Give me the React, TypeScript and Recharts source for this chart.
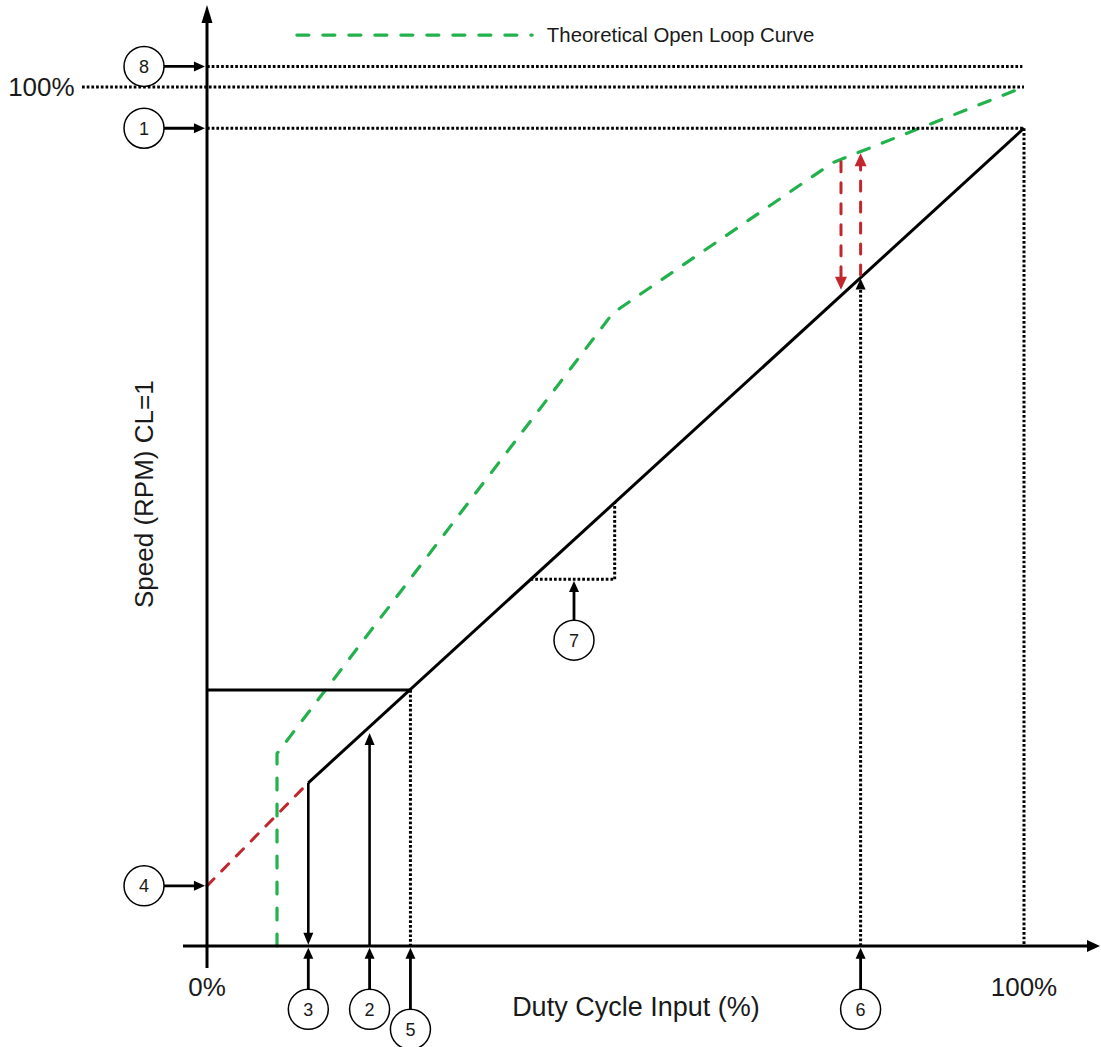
import React from 'react';
import { ComposedChart, Line, XAxis, YAxis, ReferenceLine, ReferenceDot } from 'recharts';

const FONT = '"Liberation Sans", Arial, Helvetica, sans-serif';
const GREEN = '#22b14c';
const RED = '#c1272d';
const INK = '#000000';

// ---- data (duty cycle %, speed %) ----
const closedLoop = [
  { x: 12.4, y: 19.0 },
  { x: 100, y: 95.2 },
];
const lowSpeedLine = [
  { x: 0, y: 7.0 },
  { x: 12.4, y: 19.0 },
];
const openLoopCurve = [
  { x: 8.57, y: 0 },
  { x: 8.57, y: 22.4 },
  { x: 49.7, y: 73.7 },
  { x: 76.6, y: 91.2 },
  { x: 100, y: 100 },
];
const speedLevels = { max8: 102.4, full: 100, max1: 95.2, min4: 7.0, knee: 29.8 };
const dutyPoints = { min3: 12.4, mid2: 19.9, knee5: 24.9, test6: 80.0, full: 100, step7a: 39.6, step7b: 49.9 };
const stepLevels = { low: 42.7, high: 51.6 };
const gapArrow = { downX: 77.6, downFrom: 91.3, downTo: 76.4, upFrom: 78.1, upTo: 92.3 };
const leftCallouts = [
  { label: '8', y: speedLevels.max8 },
  { label: '1', y: speedLevels.max1 },
  { label: '4', y: speedLevels.min4 },
];
const bottomCallouts = [
  { label: '3', x: dutyPoints.min3, low: false },
  { label: '2', x: dutyPoints.mid2, low: false },
  { label: '5', x: dutyPoints.knee5, low: true },
  { label: '6', x: dutyPoints.test6, low: false },
];
const xTickLabels = [
  { x: 0, label: '0%' },
  { x: 100, label: '100%' },
];
const legendLabel = 'Theoretical Open Loop Curve';
const xTitle = 'Duty Cycle Input (%)';
const yTitle = 'Speed (RPM) CL=1';

// ---- layout ----
const W = 1101;
const H = 1047;
const X_DOMAIN: [number, number] = [-25.337, 109.425];
const Y_DOMAIN: [number, number] = [-11.758, 110.128];

type Dir = 'up' | 'down' | 'left' | 'right';

const arrowHead = (dir: Dir, color = INK, len = 11, half = 5) => (p: any) => {
  const { cx, cy } = p;
  let pts = '';
  if (dir === 'right') pts = `${cx},${cy} ${cx - len},${cy - half} ${cx - len},${cy + half}`;
  if (dir === 'left') pts = `${cx},${cy} ${cx + len},${cy - half} ${cx + len},${cy + half}`;
  if (dir === 'up') pts = `${cx},${cy} ${cx - half},${cy + len} ${cx + half},${cy + len}`;
  if (dir === 'down') pts = `${cx},${cy} ${cx - half},${cy - len} ${cx + half},${cy - len}`;
  return <polygon points={pts} fill={color} stroke="none" />;
};

const circleShape = (label: string) => (p: any) => (
  <g>
    <circle cx={p.cx} cy={p.cy} r={20} fill="#ffffff" stroke={INK} strokeWidth={1.5} />
    <text
      x={p.cx}
      y={p.cy + 0.5}
      textAnchor="middle"
      dominantBaseline="central"
      fontFamily={FONT}
      fontSize={18}
      fill="#1a1a1a"
    >
      {label}
    </text>
  </g>
);

const textShape = (txt: string, size: number, anchor: 'start' | 'middle' | 'end' = 'middle', rotate = false) => (p: any) => (
  <text
    x={p.cx}
    y={p.cy}
    textAnchor={anchor}
    dominantBaseline="central"
    fontFamily={FONT}
    fontSize={size}
    fill="#1a1a1a"
    transform={rotate ? `rotate(-90 ${p.cx} ${p.cy})` : undefined}
  >
    {txt}
  </text>
);

const DOT = { stroke: INK, strokeWidth: 3, strokeDasharray: '2.7 2' };

const seg = (key: string, x1: number, y1: number, x2: number, y2: number, style: any) => (
  <ReferenceLine
    key={key}
    segment={[{ x: x1, y: y1 }, { x: x2, y: y2 }]}
    ifOverflow="visible"
    {...style}
  />
);

const head = (key: string, x: number, y: number, shape: any) => (
  <ReferenceDot key={key} x={x} y={y} r={1} ifOverflow="visible" shape={shape} />
);

export default function App() {
  const els: any[] = [];

  // axes
  els.push(seg('yaxis', 0, -2.56, 0, 108, { stroke: INK, strokeWidth: 3 }));
  els.push(head('yaxisHead', 0, 109.55, arrowHead('up', INK, 18, 5.5)));
  els.push(seg('xaxis', -2.94, 0, 108, 0, { stroke: INK, strokeWidth: 3 }));
  els.push(head('xaxisHead', 109.3, 0, arrowHead('right', INK, 13, 6)));

  // dotted horizontal levels
  els.push(seg('l8', 0, speedLevels.max8, 99.8, speedLevels.max8, DOT));
  els.push(seg('lfull', -15.3, speedLevels.full, 100, speedLevels.full, DOT));
  els.push(seg('l1', 0, speedLevels.max1, dutyPoints.full, speedLevels.max1, DOT));
  els.push(seg('v1', dutyPoints.full, speedLevels.max1, dutyPoints.full, 0, DOT));

  // knee point (5)
  els.push(seg('kneeH', 0, speedLevels.knee, dutyPoints.knee5, speedLevels.knee, { stroke: INK, strokeWidth: 2.8 }));
  els.push(seg('kneeV', dutyPoints.knee5, speedLevels.knee, dutyPoints.knee5, 0, DOT));

  // step (7)
  els.push(seg('s7h', dutyPoints.step7a, stepLevels.low, dutyPoints.step7b, stepLevels.low, DOT));
  els.push(seg('s7v', dutyPoints.step7b, stepLevels.low, dutyPoints.step7b, stepLevels.high, DOT));

  // test point (6)
  els.push(seg('v6', dutyPoints.test6, 0, dutyPoints.test6, 76.6, DOT));
  els.push(head('v6Head', dutyPoints.test6, 77.7, arrowHead('up', INK, 11, 5)));

  // min speed arrow (3) down
  els.push(seg('a3down', dutyPoints.min3, 19.0, dutyPoints.min3, 1.0, { stroke: INK, strokeWidth: 2.6 }));
  els.push(head('a3downHead', dutyPoints.min3, 0.15, arrowHead('down', INK, 12, 5)));

  // (2) up arrow
  els.push(seg('a2up', dutyPoints.mid2, 0, dutyPoints.mid2, 23.8, { stroke: INK, strokeWidth: 2.6 }));
  els.push(head('a2upHead', dutyPoints.mid2, 24.8, arrowHead('up', INK, 12, 5)));

  // red gap arrows
  els.push(seg('rdown', gapArrow.downX, gapArrow.downFrom, gapArrow.downX, gapArrow.downTo + 1.2, {
    stroke: RED, strokeWidth: 3, strokeDasharray: '10 11', strokeLinecap: 'round',
  }));
  els.push(head('rdownHead', gapArrow.downX, gapArrow.downTo, arrowHead('down', RED, 13, 6)));
  els.push(seg('rup', dutyPoints.test6, gapArrow.upFrom, dutyPoints.test6, gapArrow.upTo - 1.2, {
    stroke: RED, strokeWidth: 3, strokeDasharray: '10 11', strokeLinecap: 'round',
  }));
  els.push(head('rupHead', dutyPoints.test6, gapArrow.upTo, arrowHead('up', RED, 13, 6)));

  // left callouts
  leftCallouts.forEach((c) => {
    els.push(seg('la' + c.label, -5.3, c.y, -1.0, c.y, { stroke: INK, strokeWidth: 2.8 }));
    els.push(head('lah' + c.label, -0.25, c.y, arrowHead('right', INK, 11, 5)));
    els.push(head('lc' + c.label, -7.71, c.y, circleShape(c.label)));
  });

  // bottom callouts
  bottomCallouts.forEach((c) => {
    const cy = c.low ? -9.7 : -7.37;
    els.push(seg('ba' + c.label, c.x, cy + 2.3, c.x, -1.0, { stroke: INK, strokeWidth: 2.8 }));
    els.push(head('bah' + c.label, c.x, -0.2, arrowHead('up', INK, 11, 5)));
    els.push(head('bc' + c.label, c.x, cy, circleShape(c.label)));
  });

  // callout 7
  els.push(seg('a7', 44.92, 37.9, 44.92, 41.6, { stroke: INK, strokeWidth: 2.8 }));
  els.push(head('a7h', 44.92, 42.5, arrowHead('up', INK, 11, 5)));
  els.push(head('c7', 44.92, 35.6, circleShape('7')));

  // legend
  els.push(seg('legendLine', 11.0, 106.05, 39.8, 106.05, {
    stroke: GREEN, strokeWidth: 3.2, strokeDasharray: '12 14', strokeLinecap: 'round',
  }));
  els.push(head('legendText', 41.6, 106.0, textShape(legendLabel, 20.4, 'start')));

  // tick labels & titles
  els.push(head('t100y', -16.2, speedLevels.full, textShape('100%', 26, 'end')));
  xTickLabels.forEach((t) => {
    els.push(head('xt' + t.label, t.x, -4.8, textShape(t.label, 26, 'middle')));
  });
  els.push(head('xtitle', 52.5, -7.1, textShape(xTitle, 27, 'middle')));
  els.push(head('ytitle', -7.71, 52.6, textShape(yTitle, 26, 'middle', true)));

  return (
    <div style={{ position: 'absolute', left: 0, top: 0, width: W, height: H, background: '#ffffff' }}>
      <ComposedChart width={W} height={H} margin={{ top: 0, right: 0, bottom: 0, left: 0 }}>
        <XAxis type="number" dataKey="x" domain={X_DOMAIN} hide />
        <YAxis type="number" dataKey="y" domain={Y_DOMAIN} hide />
        <Line
          data={openLoopCurve}
          dataKey="y"
          type="linear"
          stroke={GREEN}
          strokeWidth={3.2}
          strokeDasharray="12 14"
          strokeLinecap="round"
          strokeLinejoin="round"
          dot={false}
          activeDot={false}
          isAnimationActive={false}
        />
        <Line
          data={lowSpeedLine}
          dataKey="y"
          type="linear"
          stroke={RED}
          strokeWidth={3}
          strokeDasharray="10 11"
          strokeLinecap="round"
          dot={false}
          activeDot={false}
          isAnimationActive={false}
        />
        <Line
          data={closedLoop}
          dataKey="y"
          type="linear"
          stroke={INK}
          strokeWidth={3}
          dot={false}
          activeDot={false}
          isAnimationActive={false}
        />
        {els}
      </ComposedChart>
    </div>
  );
}
